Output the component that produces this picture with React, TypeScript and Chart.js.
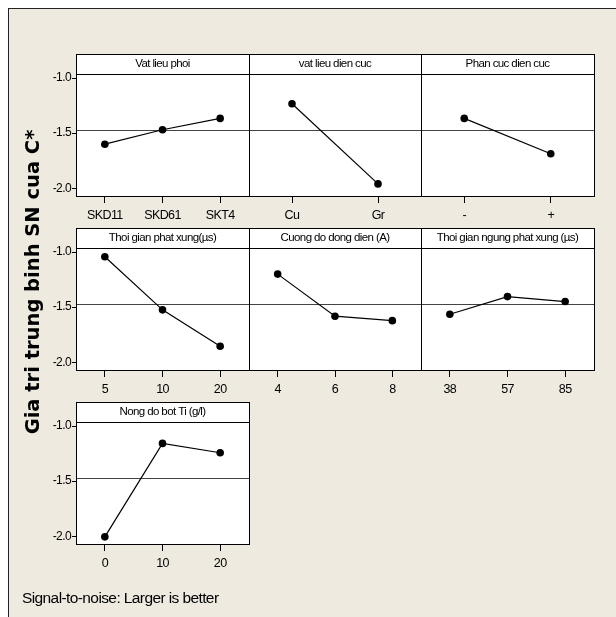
import React, { useEffect, useRef } from "react";
import { Chart, registerables } from "chart.js";
Chart.register(...registerables);

// ---------------- data ----------------
const panelTitles = [
  "Vat lieu phoi",
  "vat lieu dien cuc",
  "Phan cuc dien cuc",
  "Thoi gian phat xung(µs)",
  "Cuong do dong dien (A)",
  "Thoi gian ngung phat xung (µs)",
  "Nong do bot Ti (g/l)",
];
const vatLieuPhoiLevels = ["SKD11", "SKD61", "SKT4"];
const vatLieuPhoiSN = [-1.6, -1.469, -1.366];
const vatLieuDienCucLevels = ["Cu", "Gr"];
const vatLieuDienCucSN = [-1.233, -1.96];
const phanCucLevels = ["-", "+"];
const phanCucSN = [-1.366, -1.687];
const thoiGianPhatXungLevels = ["5", "10", "20"];
const thoiGianPhatXungSN = [-1.043, -1.524, -1.855];
const cuongDoLevels = ["4", "6", "8"];
const cuongDoSN = [-1.2, -1.582, -1.622];
const thoiGianNgungLevels = ["38", "57", "85"];
const thoiGianNgungSN = [-1.564, -1.404, -1.449];
const nongDoLevels = ["0", "10", "20"];
const nongDoSN = [-2.005, -1.157, -1.242];
const meanSN = -1.472;
const yTickValues = [-1.0, -1.5, -2.0];
const yMin = -2.07;
const yMax = -0.963;
const yAxisTitle = "Gia tri trung binh SN cua C*";
const footnote = "Signal-to-noise: Larger is better";

// ---------------- layout ----------------
const BG = "#EEEAE0";
const FONT = "'Liberation Sans', Arial, sans-serif";
const COL_LEFT = [76, 249, 421];
const COL_RIGHT = [249, 421, 594];
const ROW_PLOT_TOP = [74, 248, 422];
const PLOT_H = 122;
const STRIP_H = 20;
const PAD_T = 2;
const PAD_R = 3;
const X_H = 32;
const Y_W = 40;

const panels = [
  { title: panelTitles[0], labels: vatLieuPhoiLevels, values: vatLieuPhoiSN, row: 0, col: 0 },
  { title: panelTitles[1], labels: vatLieuDienCucLevels, values: vatLieuDienCucSN, row: 0, col: 1 },
  { title: panelTitles[2], labels: phanCucLevels, values: phanCucSN, row: 0, col: 2 },
  { title: panelTitles[3], labels: thoiGianPhatXungLevels, values: thoiGianPhatXungSN, row: 1, col: 0 },
  { title: panelTitles[4], labels: cuongDoLevels, values: cuongDoSN, row: 1, col: 1 },
  { title: panelTitles[5], labels: thoiGianNgungLevels, values: thoiGianNgungSN, row: 1, col: 2 },
  { title: panelTitles[6], labels: nongDoLevels, values: nongDoSN, row: 2, col: 0 },
];

const panelPlugin = {
  id: "panelFrame",
  beforeDraw(chart: any) {
    const { ctx, chartArea: a } = chart;
    ctx.save();
    ctx.fillStyle = "#fff";
    ctx.fillRect(a.left, a.top - STRIP_H, a.right - a.left, a.bottom - a.top + STRIP_H);
    ctx.restore();
    ctx.letterSpacing = "-0.6px";
  },
  beforeDatasetsDraw(chart: any) {
    const { ctx, chartArea: a, scales } = chart;
    const y = Math.round(scales.y.getPixelForValue(meanSN)) + 0.5;
    ctx.save();
    ctx.strokeStyle = "#444";
    ctx.lineWidth = 1;
    ctx.beginPath();
    ctx.moveTo(a.left, y);
    ctx.lineTo(a.right, y);
    ctx.stroke();
    ctx.restore();
  },
  afterDraw(chart: any) {
    const { ctx, chartArea: a } = chart;
    const l = Math.round(a.left) + 0.5;
    const r = Math.round(a.right) + 0.5;
    const t = Math.round(a.top) + 0.5;
    const b = Math.round(a.bottom) + 0.5;
    ctx.save();
    ctx.strokeStyle = "#000";
    ctx.lineWidth = 1;
    ctx.strokeRect(l, t - STRIP_H, r - l, b - t + STRIP_H);
    ctx.beginPath();
    ctx.moveTo(l, t);
    ctx.lineTo(r, t);
    ctx.stroke();
    ctx.restore();
    ctx.letterSpacing = "0px";
  },
};

function Panel({ p }: { p: any }) {
  const ref = useRef<HTMLCanvasElement>(null);
  const yW = p.col === 0 ? Y_W : 0;
  const left = COL_LEFT[p.col] - yW;
  const width = yW + (COL_RIGHT[p.col] - COL_LEFT[p.col]) + PAD_R;
  const top = ROW_PLOT_TOP[p.row] - STRIP_H - PAD_T;
  const height = PAD_T + STRIP_H + PLOT_H + X_H;

  useEffect(() => {
    const chart = new Chart(ref.current as HTMLCanvasElement, {
      type: "line",
      data: {
        labels: p.labels,
        datasets: [
          {
            data: p.values,
            borderColor: "#000",
            backgroundColor: "#000",
            borderWidth: 1.2,
            pointRadius: 3.8,
            pointBorderWidth: 0,
            pointBackgroundColor: "#000",
            tension: 0,
          },
        ],
      },
      options: {
        responsive: false,
        animation: false,
        devicePixelRatio: 1,
        layout: { autoPadding: false, padding: { top: PAD_T, right: PAD_R, left: 0, bottom: 0 } },
        plugins: {
          legend: { display: false },
          tooltip: { enabled: false },
          title: {
            display: true,
            text: p.title,
            fullSize: false,
            color: "#000",
            font: { family: FONT, size: 11.5, weight: "normal", lineHeight: 1.2 },
            padding: { top: 3, bottom: 3.2 },
          },
        },
        scales: {
          x: {
            type: "category",
            offset: true,
            border: { display: false },
            grid: { display: true, drawOnChartArea: false, drawTicks: true, tickLength: 7, color: "#000" },
            ticks: { color: "#000", font: { family: FONT, size: 12.5 }, padding: 5, maxRotation: 0, autoSkip: false },
            afterFit: (s: any) => {
              s.height = X_H;
            },
          },
          y: {
            type: "linear",
            display: p.col === 0,
            min: yMin,
            max: yMax,
            border: { display: false },
            grid: { display: true, drawOnChartArea: false, drawTicks: true, tickLength: 4, color: "#000" },
            ticks: {
              color: "#000",
              font: { family: FONT, size: 12 },
              padding: 1,
              callback: (v: any) => Number(v).toFixed(1),
            },
            afterBuildTicks: (s: any) => {
              s.ticks = yTickValues.map((v) => ({ value: v }));
            },
            afterFit: (s: any) => {
              s.width = yW;
            },
          },
        },
      } as any,
      plugins: [panelPlugin],
    });
    return () => chart.destroy();
  }, []);

  return (
    <canvas
      ref={ref}
      width={width}
      height={height}
      style={{ position: "absolute", left, top, width, height }}
    />
  );
}

export default function App() {
  return (
    <div
      style={{
        position: "fixed",
        left: 0,
        top: 0,
        width: 616,
        height: 617,
        background: "#fff",
        overflow: "hidden",
      }}
    >
      <div
        style={{
          position: "absolute",
          left: 8,
          top: 8,
          width: 608,
          height: 609,
          background: BG,
          borderLeft: "1px solid #222",
          borderTop: "1px solid #222",
          boxSizing: "border-box",
        }}
      />
      {panels.map((p, i) => (
        <Panel key={i} p={p} />
      ))}
      <div
        style={{
          position: "absolute",
          left: 33 - 200,
          top: 282 - 12,
          width: 400,
          height: 24,
          lineHeight: "24px",
          textAlign: "center",
          transform: "rotate(-90deg)",
          fontFamily: "'DejaVu Sans', Verdana, sans-serif",
          fontWeight: "bold",
          fontSize: 19.5,
          whiteSpace: "nowrap",
          color: "#000",
        }}
      >
        {yAxisTitle}
      </div>
      <div
        style={{
          position: "absolute",
          left: 22,
          top: 588,
          height: 20,
          lineHeight: "20px",
          fontFamily: FONT,
          fontSize: 15.5,
          letterSpacing: "-0.6px",
          whiteSpace: "nowrap",
          color: "#000",
        }}
      >
        {footnote}
      </div>
    </div>
  );
}
